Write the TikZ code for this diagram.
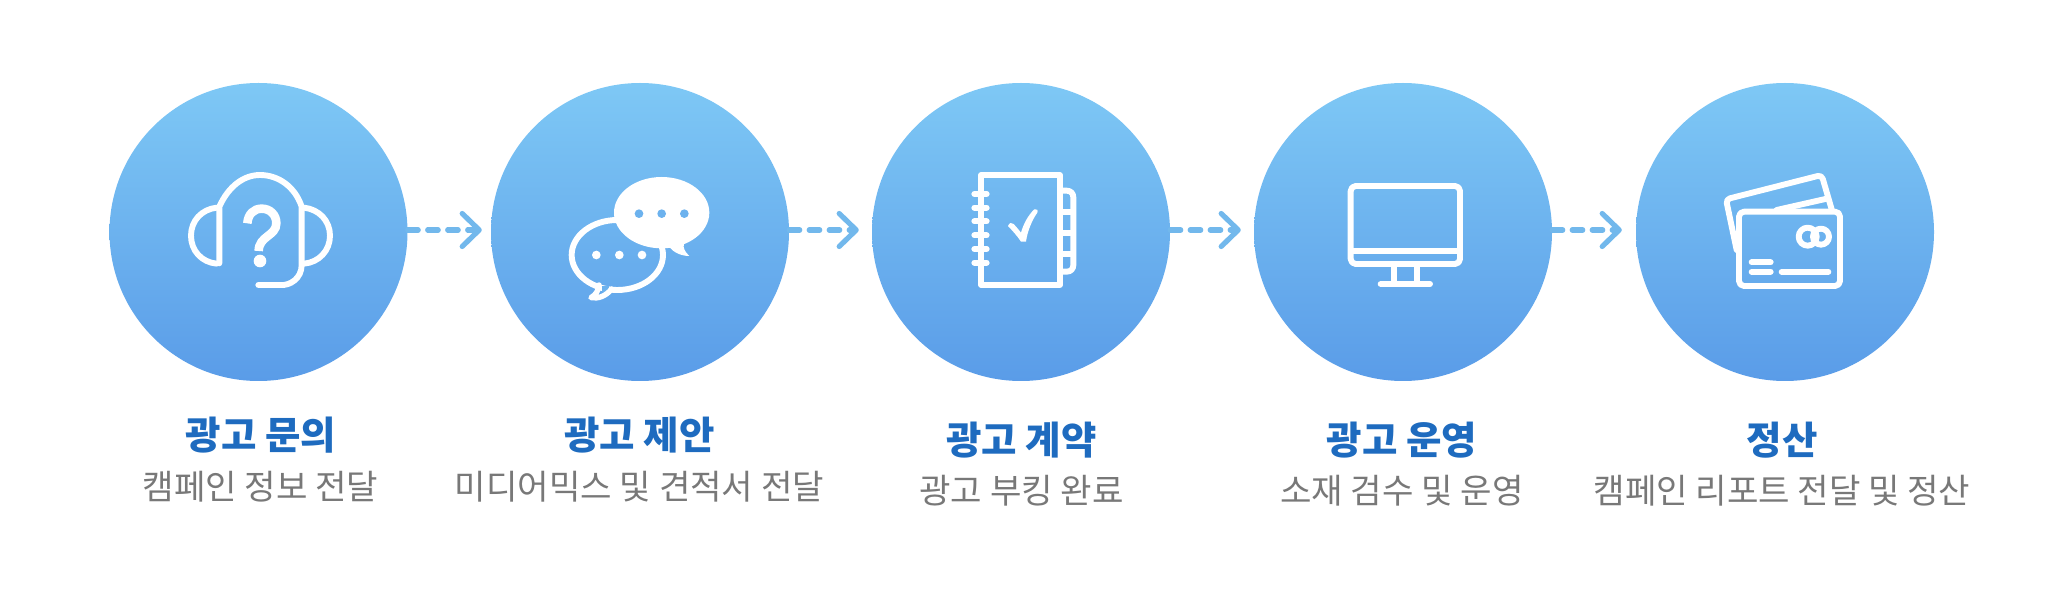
\documentclass[tikz,border=0pt]{standalone}
\usepackage{fontspec}
\setmainfont{Noto Sans CJK KR}
\usetikzlibrary{arrows.meta}
\definecolor{ctop}{RGB}{126,200,245}
\definecolor{cbot}{RGB}{90,156,232}
\definecolor{arrowc}{RGB}{114,184,236}
\definecolor{titlec}{RGB}{30,107,191}
\definecolor{subc}{RGB}{120,120,120}
\definecolor{midblue}{RGB}{108,178,238}
\tikzset{
  x=1pt,y=-1pt,
  stepdisc/.style={circle,minimum size=298pt,inner sep=0pt,top color=ctop,bottom color=cbot,draw=none},
  titletext/.style={font=\fontsize{38.5}{38.5}\selectfont\bfseries,text=titlec,inner sep=0pt,anchor=center},
  subtext/.style={font=\fontsize{34.2}{34.2}\selectfont,text=subc,inner sep=0pt,anchor=center},
  flow/.style={draw=arrowc,line width=5.2pt,dash pattern=on 10.5pt off 9.5pt,line cap=round,
    -{Straight Barb[length=17pt,width=33pt,line width=5.2pt,round]}},
  ico/.style={draw=white,line width=5.9pt,line cap=round,line join=round},
}
\begin{document}
\begin{tikzpicture}
\useasboundingbox (0,0) rectangle (2048,601);
\node[stepdisc] (c1) at (258.5,232) {};
\node[stepdisc] (c2) at (640,232) {};
\node[stepdisc] (c3) at (1021,232) {};
\node[stepdisc] (c4) at (1403,232) {};
\node[stepdisc] (c5) at (1785,232) {};
\draw[flow] ([yshift=2pt]c1.east) -- ([xshift=-9pt,yshift=2pt]c2.west);
\draw[flow] ([yshift=2pt]c2.east) -- ([xshift=-13pt,yshift=2pt]c3.west);
\draw[flow] ([yshift=2pt]c3.east) -- ([xshift=-13pt,yshift=2pt]c4.west);
\draw[flow] ([yshift=2pt]c4.east) -- ([xshift=-14pt,yshift=2pt]c5.west);
% icon 1
\begin{scope}[shift={(100,70)},scale=1/3]
\draw[ico] (358,580) -- (358,410) .. controls (385,350) and (430,315) .. (480,315) .. controls (535,315) and (585,350) .. (605,410) -- (605,585) .. controls (605,625) and (570,648) .. (540,645) -- (475,645);
\draw[ico] (350,413) .. controls (305,418) and (273,452) .. (273,497) .. controls (273,542) and (305,577) .. (350,581);
\draw[ico] (612,413) .. controls (657,418) and (690,452) .. (690,497) .. controls (690,542) and (657,577) .. (612,581);
\draw[draw=white,line width=8.6pt] (442,460) .. controls (444,432) and (462,416) .. (485,416) .. controls (510,416) and (529,434) .. (529,460) .. controls (529,498) and (476,498) .. (476,543);
\fill[white] (480,573) circle (19);
\end{scope}
% icon 2
\begin{scope}[shift={(500,150)},scale=1/3]
\draw[ico] (352,315) ellipse [x radius=137,y radius=105];
\draw[draw=midblue,line width=5.9pt] (305,417) -- (327,417);
\draw[ico,line width=5.4pt] (297,405) .. controls (297,420) and (287,435) .. (273,443) .. controls (295,447) and (318,438) .. (335,417);
\fill[white] (485,188) ellipse [x radius=143,y radius=107];
\fill[white] (505,285) .. controls (512,300) and (535,318) .. (568,318) .. controls (555,305) and (548,295) .. (552,280) -- cycle;
\foreach \p in {417,485,553} \fill[midblue] (\p,191) circle (13);
\foreach \p in {289,358,426} \fill[white] (\p,315) circle (13);
\end{scope}
% icon 3
\begin{scope}[shift={(920,150)},scale=1/3]
\draw[ico] (183,76) rectangle (420,404);
\draw[ico] (428,122) -- (440,122) .. controls (452,122) and (460,130) .. (460,142) -- (460,345) .. controls (460,357) and (452,365) .. (440,365) -- (428,365);
\foreach \p in {185,250,312} \draw[ico] (428,\p) -- (458,\p);
\foreach \p in {132,173,214,256,297,338} \draw[ico] (163,\p) -- (200,\p);
\fill[white] (264,228) .. controls (268,218) and (275,216) .. (281,222) .. controls (290,232) and (297,240) .. (303,248) .. controls (310,222) and (325,195) .. (343,178) .. controls (350,175) and (355,180) .. (352,188) .. controls (335,212) and (322,245) .. (318,275) -- (303,275) .. controls (292,258) and (278,243) .. (264,228) -- cycle;
\end{scope}
% icon 4
\begin{scope}[shift={(1300,160)},scale=1/3]
\draw[ico,rounded corners=5pt] (152,78) rectangle (480,312);
\draw[ico] (155,274) -- (477,274);
\draw[ico] (282,318) -- (282,368);
\draw[ico] (352,318) -- (352,368);
\draw[ico] (242,372) -- (390,372);
\end{scope}
% icon 5
\begin{scope}[shift={(1540,150)},scale=1/3]
\draw[ico,rounded corners=5pt] (597,185) rectangle (900,408);
\draw[ico,rounded corners=4pt] (590,300) -- (558,148) -- (845,75) -- (875,178);
\draw[ico] (710,180) -- (865,145);
\draw[ico] (843,260) circle (24);
\draw[ico] (803,260) circle (27);
\draw[ico] (635,337) -- (692,337);
\draw[ico] (635,365) -- (692,365);
\draw[ico] (725,365) -- (865,365);
\end{scope}
% text
\node[titletext] (t1) at (261,435) {광고 문의};
\node[subtext] (s1) at (260.5,487) {캠페인 정보 전달};
\node[titletext] (t2) at (639.5,435) {광고 제안};
\node[subtext] (s2) at (639.5,487) {미디어믹스 및 견적서 전달};
\node[titletext] (t3) at (1021.5,440) {광고 계약};
\node[subtext] (s3) at (1021.5,491) {광고 부킹 완료};
\node[titletext] (t4) at (1402,440) {광고 운영};
\node[subtext] (s4) at (1402,491) {소재 검수 및 운영};
\node[titletext] (t5) at (1782,440) {정산};
\node[subtext] (s5) at (1782,491) {캠페인 리포트 전달 및 정산};
\end{tikzpicture}
\end{document}
